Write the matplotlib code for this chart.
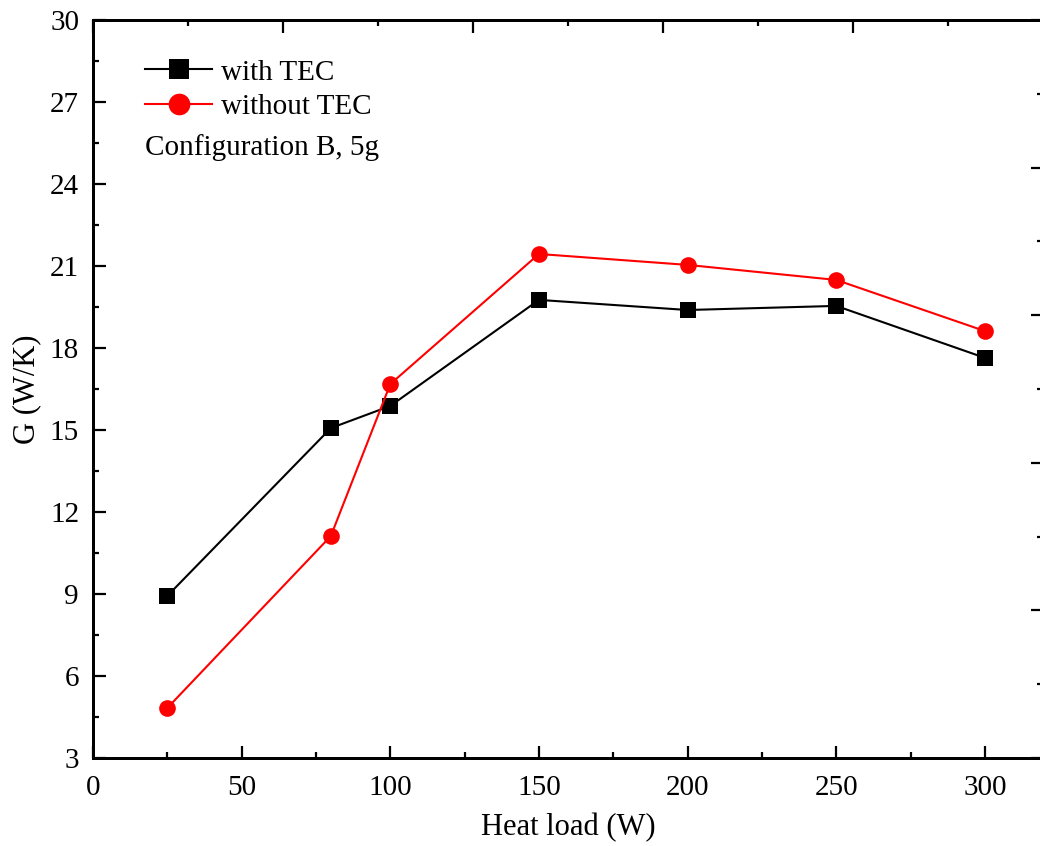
import matplotlib
matplotlib.use("Agg")
import matplotlib.pyplot as plt
from matplotlib.ticker import MultipleLocator, NullFormatter

heat_load = [25, 80, 100, 150, 200, 250, 300]
with_tec = [8.93, 15.07, 15.88, 19.76, 19.39, 19.54, 17.64]
without_tec = [4.83, 11.12, 16.68, 21.44, 21.04, 20.49, 18.62]

plt.rcParams['font.family'] = ['Liberation Serif', 'DejaVu Serif']

W, H = 1040, 846
fig = plt.figure(figsize=(W / 100, H / 100), dpi=100)
left, right, bottom, top = 93, 1043, 758, 20
ax = fig.add_axes([left / W, (H - bottom) / H, (right - left) / W, (bottom - top) / H])

ax.plot(heat_load, with_tec, color='black', lw=1.5, marker='s', ms=11.5,
        markeredgewidth=0, label='with TEC', zorder=3)
ax.plot(heat_load, without_tec, color='#ff0000', lw=1.5, marker='o', ms=12,
        markeredgewidth=0, label='without TEC', zorder=3)

ax.set_xlim(0, (right - left) / 2.973)
ax.set_ylim(3, 30)
ax.xaxis.set_major_locator(MultipleLocator(50))
ax.xaxis.set_minor_locator(MultipleLocator(25))
ax.yaxis.set_major_locator(MultipleLocator(3))
ax.yaxis.set_minor_locator(MultipleLocator(1.5))

fs = 21
ax.tick_params(which='both', direction='in', width=1.6, labelsize=fs,
               top=False, right=False)
ax.tick_params(axis='x', which='both', pad=12)
ax.tick_params(axis='y', which='both', pad=10)
ax.tick_params(which='major', length=9)
ax.tick_params(which='minor', length=4.5)
for s in ax.spines.values():
    s.set_linewidth(2.0)

ax.set_xlabel('Heat load (W)', fontsize=22, labelpad=9)
ax.set_ylabel('G (W/K)', fontsize=22, labelpad=6)

# top decorative axis
axt = ax.twiny()
axt.set_xlim(0, 5)
axt.xaxis.set_major_locator(MultipleLocator(1))
axt.xaxis.set_minor_locator(MultipleLocator(0.5))
axt.xaxis.set_major_formatter(NullFormatter())
axt.tick_params(which='both', direction='in', width=1.6, top=True, bottom=False)
axt.tick_params(which='major', length=9)
axt.tick_params(which='minor', length=4.5)
axt.yaxis.set_visible(False)
for s in axt.spines.values():
    s.set_linewidth(2.0)

# right decorative axis
axr = ax.twinx()
axr.set_ylim(0, 5)
axr.yaxis.set_major_locator(MultipleLocator(1))
axr.yaxis.set_minor_locator(MultipleLocator(0.5))
axr.yaxis.set_major_formatter(NullFormatter())
axr.tick_params(which='both', direction='in', width=1.6, right=True, left=False)
axr.tick_params(which='major', length=9)
axr.tick_params(which='minor', length=4.5)
for s in axr.spines.values():
    s.set_linewidth(2.0)

leg = ax.legend(loc='upper left', bbox_to_anchor=(0.055, 0.947), frameon=False,
                fontsize=fs, handlelength=2.3, handletextpad=0.3, borderpad=0,
                borderaxespad=0, labelspacing=0.28, markerscale=1.3)
ax.text(0.055, 0.827, 'Configuration B, 5g', transform=ax.transAxes,
        fontsize=fs, va='center', ha='left')

fig.savefig('out.png', dpi=100)
